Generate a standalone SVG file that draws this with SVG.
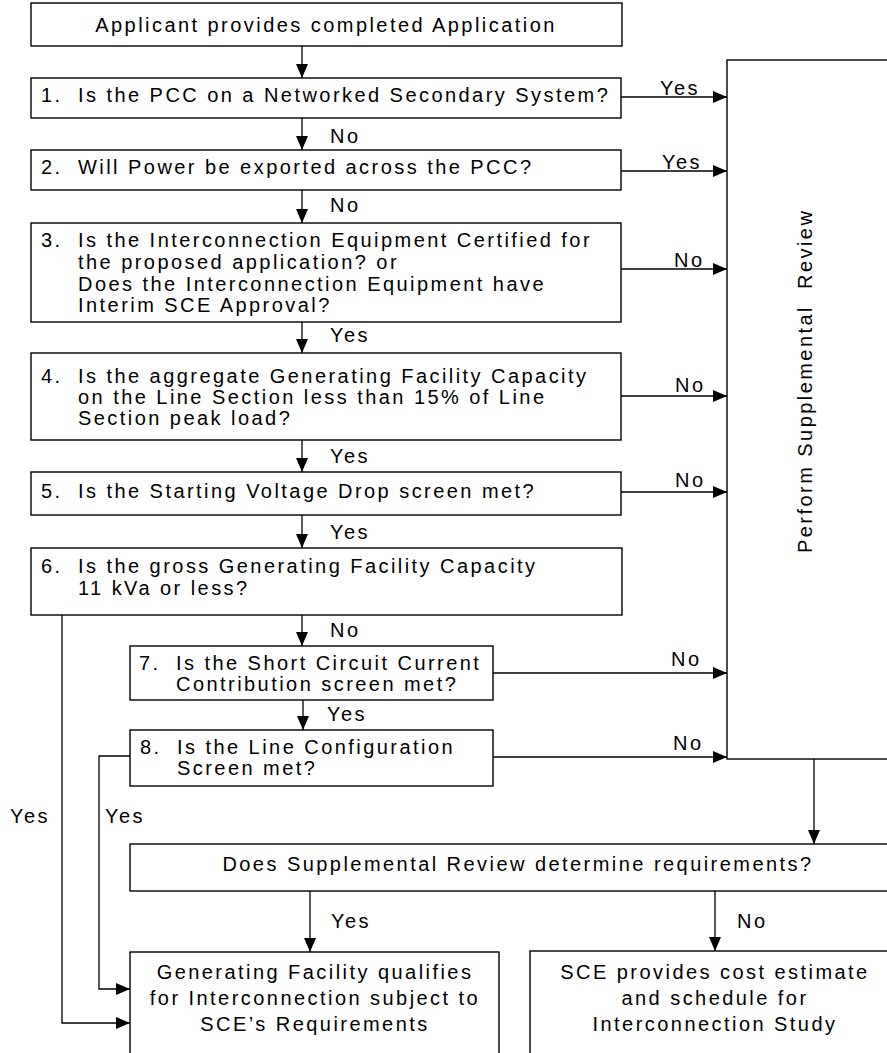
<svg xmlns="http://www.w3.org/2000/svg" width="887" height="1053" viewBox="0 0 887 1053">
<style>
.box{fill:#fff;stroke:#000;stroke-width:1.4}
.ln{fill:none;stroke:#000;stroke-width:1.3}
.arr{marker-end:url(#ah)}
text{font-family:"Liberation Sans",Arial,sans-serif;font-size:20px;letter-spacing:2.45px;fill:#000;white-space:pre}
.c{text-anchor:middle}
</style>
<defs>
<marker id="ah" markerUnits="userSpaceOnUse" markerWidth="15" markerHeight="13" refX="14" refY="6" orient="auto">
<path d="M0,0 L14,6 L0,12 z" fill="#000"/>
</marker>
</defs>
<rect width="887" height="1053" fill="#fff"/>

<g id="connectors">
<line class="ln arr" x1="302" y1="46" x2="302" y2="78"/>
<line class="ln arr" x1="302" y1="118" x2="302" y2="150"/>
<line class="ln arr" x1="302" y1="190" x2="302" y2="223"/>
<line class="ln arr" x1="302" y1="322" x2="302" y2="353"/>
<line class="ln arr" x1="302" y1="440" x2="302" y2="472"/>
<line class="ln arr" x1="302" y1="515" x2="302" y2="548"/>
<line class="ln arr" x1="302" y1="615" x2="302" y2="646"/>
<line class="ln arr" x1="303" y1="700" x2="303" y2="730"/>
<line class="ln arr" x1="621" y1="97" x2="727" y2="97"/>
<line class="ln arr" x1="621" y1="171" x2="727" y2="171"/>
<line class="ln arr" x1="621" y1="269" x2="727" y2="269"/>
<line class="ln arr" x1="621" y1="396" x2="727" y2="396"/>
<line class="ln arr" x1="621" y1="492" x2="727" y2="492"/>
<line class="ln arr" x1="493" y1="673" x2="727" y2="673"/>
<line class="ln arr" x1="493" y1="757" x2="727" y2="757"/>
<line class="ln arr" x1="814" y1="759" x2="814" y2="844"/>
<line class="ln arr" x1="310" y1="891" x2="310" y2="952"/>
<line class="ln arr" x1="715" y1="891" x2="715" y2="951"/>
<polyline class="ln arr" points="62,615 62,1023 130,1023"/>
<polyline class="ln arr" points="130,756 99,756 99,989 130,989"/>
<text x="330" y="143">No</text>
<text x="330" y="212">No</text>
<text x="330" y="342">Yes</text>
<text x="330" y="463">Yes</text>
<text x="330" y="539">Yes</text>
<text x="330" y="637">No</text>
<text x="327" y="721">Yes</text>
<text x="660" y="95">Yes</text>
<text x="662" y="169">Yes</text>
<text x="674" y="267">No</text>
<text x="675" y="392">No</text>
<text x="675" y="487">No</text>
<text x="671" y="666">No</text>
<text x="673" y="750">No</text>
<text x="10" y="823">Yes</text>
<text x="105" y="823">Yes</text>
<text x="331" y="928">Yes</text>
<text x="737" y="928">No</text>
</g>

<g id="start">
<rect class="box" x="31" y="3" width="591" height="43"/>
<text class="c" x="326" y="32">Applicant provides completed Application</text>
</g>

<g id="q1">
<rect class="box" x="31" y="78" width="590" height="40"/>
<text><tspan x="41" y="102">1.</tspan><tspan x="78" y="102">Is the PCC on a Networked Secondary System?</tspan></text>
</g>

<g id="q2">
<rect class="box" x="31" y="150" width="590" height="40"/>
<text><tspan x="41" y="174">2.</tspan><tspan x="78" y="174">Will Power be exported across the PCC?</tspan></text>
</g>

<g id="q3">
<rect class="box" x="31" y="223" width="590" height="99"/>
<text><tspan x="41" y="247">3.</tspan><tspan x="78" y="247">Is the Interconnection Equipment Certified for</tspan><tspan x="78" y="269">the proposed application? or</tspan><tspan x="78" y="291">Does the Interconnection Equipment have</tspan><tspan x="78" y="312">Interim SCE Approval?</tspan></text>
</g>

<g id="q4">
<rect class="box" x="31" y="353" width="590" height="87"/>
<text><tspan x="41" y="383">4.</tspan><tspan x="78" y="383">Is the aggregate Generating Facility Capacity</tspan><tspan x="78" y="404">on the Line Section less than 15% of Line</tspan><tspan x="78" y="425">Section peak load?</tspan></text>
</g>

<g id="q5">
<rect class="box" x="31" y="472" width="590" height="43"/>
<text><tspan x="41" y="498">5.</tspan><tspan x="78" y="498">Is the Starting Voltage Drop screen met?</tspan></text>
</g>

<g id="q6">
<rect class="box" x="31" y="548" width="591" height="67"/>
<text><tspan x="41" y="573">6.</tspan><tspan x="78" y="573">Is the gross Generating Facility Capacity</tspan><tspan x="78" y="595">11 kVa or less?</tspan></text>
</g>

<g id="q7">
<rect class="box" x="130" y="646" width="363" height="54"/>
<text><tspan x="139" y="670">7.</tspan><tspan x="176" y="670">Is the Short Circuit Current</tspan><tspan x="176" y="691">Contribution screen met?</tspan></text>
</g>

<g id="q8">
<rect class="box" x="130" y="730" width="363" height="56"/>
<text><tspan x="140" y="754">8.</tspan><tspan x="177" y="754">Is the Line Configuration</tspan><tspan x="177" y="775">Screen met?</tspan></text>
</g>

<g id="review">
<rect class="box" x="727" y="60" width="180" height="699"/>
<text transform="translate(812,553) rotate(-90)" x="0" y="0">Perform Supplemental  Review</text>
</g>

<g id="decision">
<rect class="box" x="130" y="844" width="777" height="47"/>
<text class="c" x="518" y="871">Does Supplemental Review determine requirements?</text>
</g>

<g id="qualifies">
<rect class="box" x="130" y="952" width="369" height="110"/>
<text class="c"><tspan x="315" y="979">Generating Facility qualifies</tspan><tspan x="315" y="1005">for Interconnection subject to</tspan><tspan x="315" y="1031">SCE’s Requirements</tspan></text>
</g>

<g id="study">
<rect class="box" x="530" y="951" width="377" height="111"/>
<text class="c"><tspan x="715" y="979">SCE provides cost estimate</tspan><tspan x="715" y="1005">and schedule for</tspan><tspan x="715" y="1031">Interconnection Study</tspan></text>
</g>
</svg>
